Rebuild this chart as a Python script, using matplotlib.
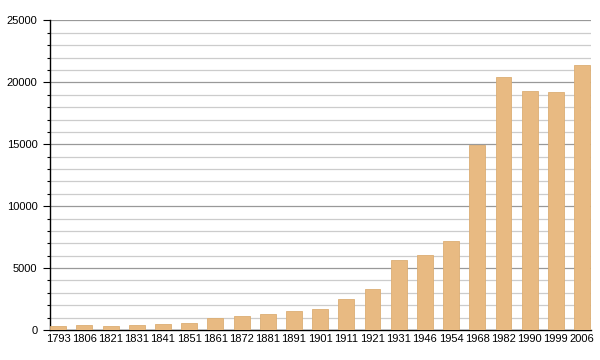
import matplotlib.pyplot as plt
from matplotlib.ticker import MultipleLocator

years = ["1793", "1806", "1821", "1831", "1841", "1851", "1861", "1872", "1881",
         "1891", "1901", "1911", "1921", "1931", "1946", "1954", "1968", "1982",
         "1990", "1999", "2006"]
population = [350, 430, 320, 420, 480, 560, 940, 1130, 1290,
              1530, 1720, 2530, 3330, 5650, 6050, 7180, 14950, 20400,
              19300, 19220, 21370]

plt.rcParams['font.family'] = ['Liberation Sans', 'DejaVu Sans']

fig = plt.figure(figsize=(6, 3.6), dpi=100)
ax = fig.add_axes([50 / 600, 30 / 360, 541 / 600, 309.5 / 360])

x = range(len(years))
ax.bar(x, population, width=0.61, color="#e8ba82", edgecolor="#dcae74",
       linewidth=0.6, zorder=3)

ax.set_xlim(-0.31, len(years) - 1 + 0.34)
ax.set_ylim(0, 25000)
ax.set_xticks(list(x))
ax.set_xticklabels(years, fontsize=8)
ax.tick_params(axis="x", length=0, pad=3)

ax.yaxis.set_major_locator(MultipleLocator(5000))
ax.yaxis.set_minor_locator(MultipleLocator(1000))
ax.tick_params(axis="y", which="major", length=5, width=0.8, labelsize=8, pad=4)
ax.tick_params(axis="y", which="minor", length=2.5, width=0.8)

ax.grid(axis="y", which="major", color="#999999", linewidth=0.9, zorder=0)
ax.grid(axis="y", which="minor", color="#cccccc", linewidth=0.9, zorder=0)

for side in ["top", "right"]:
    ax.spines[side].set_visible(False)
ax.spines["left"].set_linewidth(1)
ax.spines["bottom"].set_linewidth(1)

fig.savefig("out.png", dpi=100)
